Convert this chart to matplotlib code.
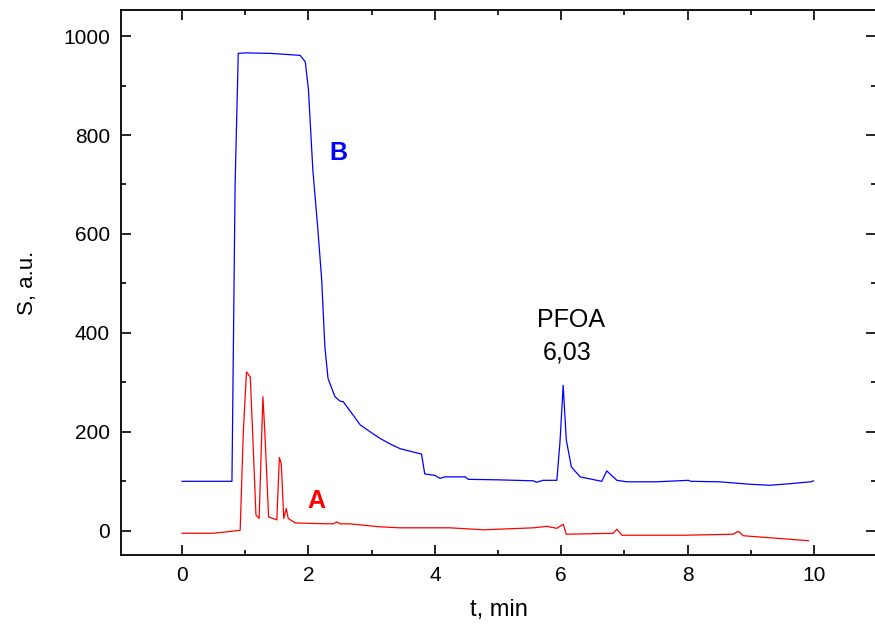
import numpy as np
import matplotlib
matplotlib.use('Agg')
import matplotlib.pyplot as plt
from matplotlib.ticker import MultipleLocator

plt.rcParams['font.family'] = ['Liberation Sans', 'DejaVu Sans']

# Chromatogram B (blue)
t_b = [0.0, 0.50, 0.79, 0.84, 0.89, 1.0, 1.40, 1.87, 1.95, 2.00, 2.07, 2.15, 2.21,
       2.26, 2.31, 2.42, 2.50, 2.55, 2.70, 2.82, 3.00, 3.13, 3.30, 3.45, 3.79, 3.84,
       4.00, 4.08, 4.16, 4.48, 4.53, 5.00, 5.56, 5.61, 5.71, 5.93, 5.98, 6.03, 6.08,
       6.16, 6.30, 6.64, 6.72, 6.88, 7.04, 7.50, 8.01, 8.05, 8.50, 8.99, 9.30, 9.60,
       9.95, 9.99]
s_b = [100, 100, 100, 700, 965, 966, 965, 961, 948, 892, 729, 608, 507,
       372, 308, 271, 262, 261, 235, 214, 198, 187, 175, 166, 155, 115,
       112, 106, 109, 109, 104, 103, 101, 98, 102, 102, 180, 294, 183,
       129, 109, 100, 121, 102, 99, 99, 102, 100, 99, 94, 92, 95,
       99, 101]

# Chromatogram A (red)
t_a = [0.0, 0.50, 0.92, 0.97, 1.02, 1.08, 1.11, 1.17, 1.22, 1.25, 1.28, 1.31, 1.37,
       1.50, 1.54, 1.57, 1.61, 1.65, 1.68, 1.79, 2.00, 2.39, 2.45, 2.50, 2.66, 3.13,
       3.45, 4.24, 4.77, 5.56, 5.77, 5.93, 6.03, 6.08, 6.82, 6.88, 6.96, 7.93, 8.72,
       8.80, 8.88, 9.91]
s_a = [-5, -5, 1, 200, 321, 311, 220, 32, 25, 150, 271, 200, 28,
       22, 148, 136, 25, 45, 25, 16, 15, 14, 18, 14, 14, 8,
       6, 6, 2, 6, 9, 5, 13, -7, -5, 3, -9, -9, -7,
       -1, -10, -20]

fig = plt.figure(figsize=(8.75, 6.28), dpi=100)
ax = fig.add_axes([0.1383, 0.1162, 0.8629, 0.8678])

ax.plot(t_b, s_b, color='#0000ff', lw=0.9)
ax.plot(t_a, s_a, color='#ff0000', lw=0.9)

ax.set_xlim(-0.965, 10.98)
ax.set_ylim(-49, 1052.6)
ax.xaxis.set_major_locator(MultipleLocator(2))
ax.xaxis.set_minor_locator(MultipleLocator(1))
ax.yaxis.set_major_locator(MultipleLocator(200))
ax.yaxis.set_minor_locator(MultipleLocator(100))
ax.tick_params(which='both', direction='in', top=True, right=True, width=1.2, labelsize=15)
ax.tick_params(which='major', length=7, pad=8)
ax.tick_params(which='minor', length=3.5)
for sp in ax.spines.values():
    sp.set_linewidth(1.3)

ax.set_xlabel('t, min', fontsize=17, labelpad=10)
ax.set_ylabel('S, a.u.', fontsize=16, labelpad=18)

ax.text(2.47, 763, 'B', color='#0000ff', fontsize=18, fontweight='bold', ha='center', va='center')
ax.text(2.12, 61, 'A', color='#ff0000', fontsize=18, fontweight='bold', ha='center', va='center')
ax.text(6.16, 427, 'PFOA', fontsize=18, ha='center', va='center')
ax.text(6.10, 361, '6,03', fontsize=18, ha='center', va='center')

fig.savefig('out.png', dpi=100)
